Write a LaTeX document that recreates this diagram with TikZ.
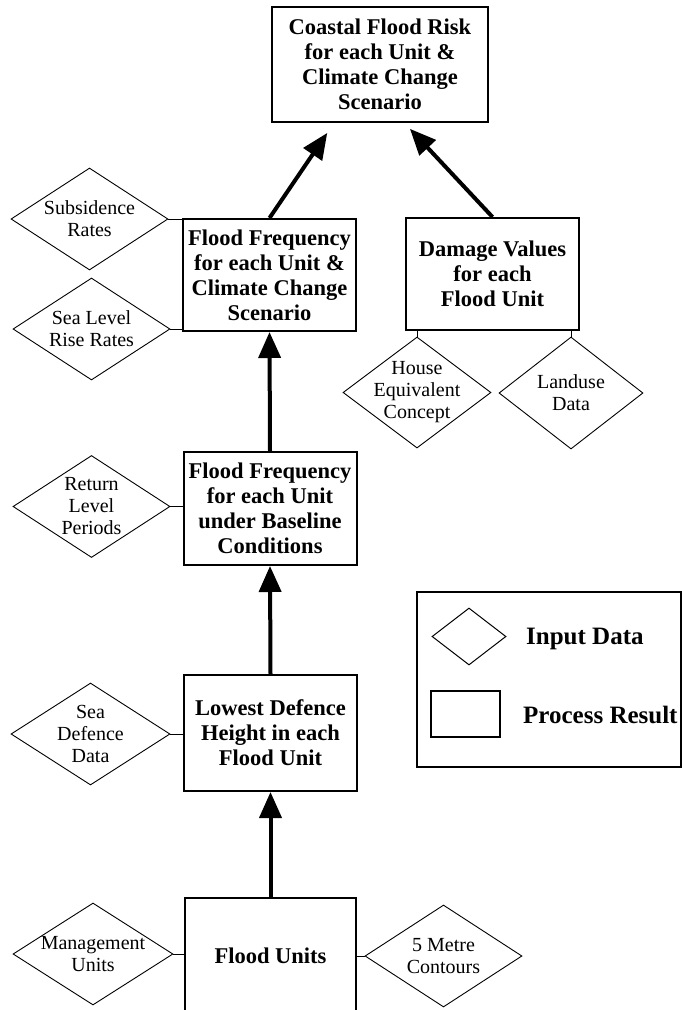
\documentclass[tikz,border=0pt]{standalone}
\usepackage{fontspec}
\setmainfont{Liberation Serif}
\usetikzlibrary{shapes.geometric,arrows.meta}

\begin{document}
\begin{tikzpicture}[x=1pt,y=-1pt,
	result/.style={draw, line width=2pt, align=center, inner sep=0pt,
		minimum width=173pt, minimum height=112pt,
		font=\fontsize{22.5}{25}\selectfont\bfseries},
	indata/.style={draw, diamond, line width=0.9pt, inner sep=0pt,
		minimum width=157pt, minimum height=102pt},
	dtext/.style={align=center, inner sep=0pt, font=\fontsize{20}{22}\selectfont},
	legtext/.style={anchor=west, inner sep=0pt, font=\fontsize{25}{28}\selectfont\bfseries},
	flow/.style={line width=4pt, -{Triangle[length=26pt,width=22pt]}},
	link/.style={line width=1pt}]

		\def\W{682}
		\def\H{1010}

		\useasboundingbox (0,0) rectangle (\W,\H);
		\clip (0,0) rectangle (\W,\H);

		% Process results

		\node[result, minimum width=216pt, minimum height=115pt] (risk) at (380,64.5)
			{Coastal Flood Risk\\for each Unit \&\\Climate Change\\Scenario};
		\node[result] (freqcc) at (269.5,275)
			{Flood Frequency\\for each Unit \&\\Climate Change\\Scenario};
		\node[result] (damage) at (492.5,274)
			{Damage Values\\for each\\Flood Unit};
		\node[result, minimum height=113pt] (freqbase) at (270,508.5)
			{Flood Frequency\\for each Unit\\under Baseline\\Conditions};
		\node[result, minimum height=116pt] (defence) at (270.5,733)
			{Lowest Defence\\Height in each\\Flood Unit};
		\node[result, minimum width=171pt, minimum height=116pt] (units) at (270.5,956)
			{Flood Units};

		% Input data

		\node[indata, label={[dtext]center:{Subsidence\\Rates}}] (subs) at (89.5,219) {};
		\node[indata, label={[dtext]center:{Sea Level\\Rise Rates}}] (slr) at (91.5,329) {};
		\node[indata, label={[dtext]center:{Return\\Level\\Periods}}] (retn) at (91.5,506.5) {};
		\node[indata, minimum width=159pt, label={[dtext]center:{Sea\\Defence\\Data}}] (seadef) at (90.5,734) {};
		\node[indata, minimum width=160pt, label={[dtext]center:{Management\\Units}}] (mgmt) at (93,954) {};
		\node[indata, label={[dtext]center:{5 Metre\\Contours}}] (contours) at (443.5,956) {};
		\node[indata, minimum width=148pt, minimum height=111pt, label={[dtext]center:{House\\Equivalent\\Concept}}] (house) at (417,392.5) {};
		\node[indata, minimum width=144pt, minimum height=112pt, label={[dtext]center:{Landuse\\Data}}] (landuse) at (571,393) {};

		% Links

		\draw[link] (subs.east) -- (subs.east -| freqcc.west);
		\draw[link] (slr.east) -- (slr.east -| freqcc.west);
		\draw[link] (retn.east) -- (retn.east -| freqbase.west);
		\draw[link] (seadef.east) -- (seadef.east -| defence.west);
		\draw[link] (mgmt.east) -- (mgmt.east -| units.west);
		\draw[link] (contours.west) -- (contours.west -| units.east);
		\draw[link] (house.north) -- (house.north |- damage.south);
		\draw[link] (landuse.north) -- (landuse.north |- damage.south);

		% Flow arrows

		\draw[flow] (units.north) -- (defence.south);
		\draw[flow] (defence.north) -- (freqbase.south);
		\draw[flow] (freqbase.north) -- (freqcc.south);
		\draw[flow, shorten >=12pt] (freqcc.north) -- ([xshift=-46pt]risk.south);
		\draw[flow, shorten >=8pt] (damage.north) -- ([xshift=24.5pt]risk.south);

		% Legend

		\node[draw, line width=1.6pt, minimum width=264pt, minimum height=175pt] (legend) at (549,679.5) {};
		\node[draw, diamond, line width=1pt, inner sep=0pt, minimum width=74pt, minimum height=57pt] (legdiam) at (469,636.5) {};
		\node[draw, line width=2pt, minimum width=69pt, minimum height=46pt] (legrect) at (465.5,714) {};
		\node[legtext] (legin) at (526,639) {Input Data};
		\node[legtext] (legout) at (523,715) {Process Result};

\end{tikzpicture}
\end{document}
